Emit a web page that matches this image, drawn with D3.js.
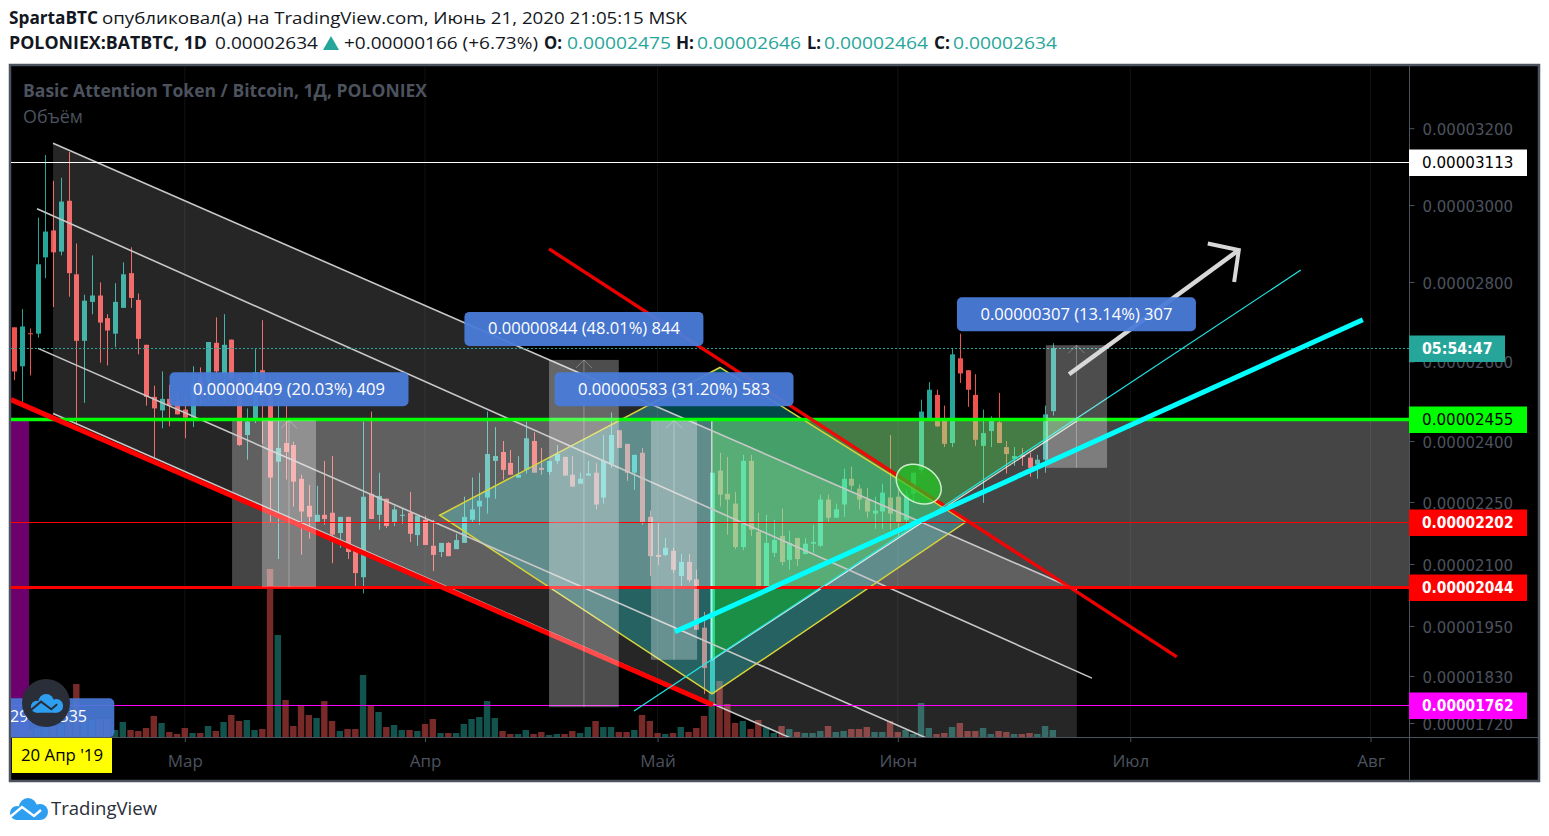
<!DOCTYPE html>
<html><head><meta charset="utf-8">
<style>html,body{margin:0;padding:0;background:#fff}svg{display:block}</style>
<script src="https://cdn.jsdelivr.net/npm/d3@7/dist/d3.min.js"></script></head><body>
<svg id="c" width="1549" height="836"></svg>
<script>
// values in units of 1e-8 BTC, one per daily bar
const opens=[2686,2588,2671,2670,2864,2934,2879,3011,2820,2652,2750,2766,2709,2670,2735,2823,2755,2642,2511,2477,2506,2501,2479,2459,2560,2551,2647,2568,2655,2558,2415,2457,2578,2519,2349,2395,2390,2307,2241,2202,2219,2224,2175,2214,2132,2068,2270,2219,2258,2202,2217,2224,2170,2207,2144,2129,2151,2136,2151,2207,2239,2261,2351,2373,2346,2310,2329,2400,2334,2324,2351,2361,2317,2295,2315,2322,2261,2344,2427,2393,2322,2371,2214,2122,2122,2132,2071,2105,2063,1946,1788,2327,2270,2246,2141,2351,2178,2044,2127,2168,2110,2163,2124,2149,2144,2256,2212,2244,2307,2283,2256,2222,2227,2261,2263,2207,2270,2329,2455,2516,2452,2395,2608,2578,2516,2388,2425,2447,2385,2356,2366,2359,2342,2354,2475];
const highs=[2686,2732,2683,2967,3130,3063,3071,3138,2900,2768,2869,2799,2719,2797,2851,2890,2771,2642,2539,2575,2541,2526,2514,2588,2585,2649,2711,2719,2655,2563,2482,2631,2704,2563,2560,2489,2398,2317,2292,2290,2351,2363,2214,2214,2132,2449,2474,2322,2258,2241,2234,2275,2217,2217,2207,2151,2153,2173,2263,2310,2322,2474,2435,2400,2378,2363,2449,2422,2383,2351,2390,2361,2363,2322,2351,2346,2415,2472,2427,2393,2366,2383,2229,2200,2163,2139,2124,2124,2086,1984,2322,2371,2361,2275,2366,2366,2224,2219,2207,2234,2180,2163,2163,2195,2268,2268,2246,2332,2337,2293,2285,2263,2295,2415,2280,2280,2322,2504,2548,2529,2489,2634,2670,2578,2568,2479,2462,2521,2400,2385,2383,2371,2366,2489,2646];
const lows=[2553,2499,2565,2660,2810,2737,2869,2763,2440,2496,2719,2597,2590,2636,2735,2735,2618,2489,2359,2432,2437,2467,2407,2435,2489,2501,2563,2496,2501,2388,2354,2445,2393,2202,2112,2305,2239,2122,2161,2202,2195,2102,2139,2112,2046,2029,2209,2183,2187,2192,2197,2153,2144,2146,2083,2117,2119,2136,2151,2202,2195,2222,2258,2305,2317,2310,2320,2322,2317,2317,2344,2315,2288,2295,2315,2232,2246,2334,2383,2302,2280,2195,2071,2097,2119,2078,2046,2056,1941,1788,1788,2239,2171,2136,2134,2168,2039,2044,2117,2097,2086,2095,2124,2127,2141,2202,2212,2214,2280,2232,2212,2185,2185,2183,2168,2183,2248,2322,2455,2435,2385,2385,2546,2486,2388,2248,2385,2395,2320,2339,2339,2312,2307,2322,2464];
const closes=[2575,2688,2669,2846,2931,2877,3009,2823,2652,2753,2766,2698,2678,2750,2820,2760,2657,2511,2482,2506,2489,2467,2459,2541,2514,2649,2575,2642,2558,2390,2449,2573,2514,2310,2383,2373,2300,2227,2214,2219,2209,2171,2214,2129,2078,2263,2209,2265,2192,2232,2219,2173,2217,2146,2122,2151,2119,2158,2214,2232,2253,2368,2363,2329,2317,2317,2407,2322,2329,2351,2368,2315,2288,2307,2320,2244,2351,2415,2383,2322,2366,2202,2119,2117,2139,2086,2105,2061,1941,1849,2322,2268,2256,2141,2351,2183,2039,2151,2158,2105,2151,2112,2149,2153,2256,2212,2232,2307,2290,2256,2227,2229,2273,2222,2200,2268,2322,2474,2529,2437,2393,2618,2570,2529,2403,2420,2452,2395,2368,2363,2361,2334,2354,2467,2634];
// volume, arbitrary units
const volumes=[8,8,7,9,10,14,12,15,53,18,17,18,18,7,15,7,6,9,21,14,5,3,9,4,4,11,6,15,22,16,17,7,8,168,102,37,11,31,22,19,36,16,6,8,8,62,31,25,10,12,7,7,6,13,18,4,4,4,13,18,20,36,19,6,3,3,7,3,5,2,3,3,6,4,10,16,10,10,5,5,7,22,16,4,3,4,10,5,9,21,45,56,33,14,16,8,17,10,4,11,8,5,4,4,6,11,5,6,8,8,10,5,5,16,5,7,3,34,9,3,4,10,14,6,6,9,3,6,5,3,3,4,3,11,7];

const priceTicks=[1720,1830,1950,2100,2250,2400,2600,2800,3000,3200];
const priceTickPixels=[723,676,626,564,502,441,361.5,282,205,128.2];
const monthBars=[22,53,83,114,144,175];
const monthNames=["Мар","Апр","Май","Июн","Июл","Авг"];

// chart drawings: [bar index, price]
const channelFill=[[5,3161],[137.1,2037],[137.1,1390],[5,2469]];
const channelLines=[[[5,3161],[137.1,2037]],[[2.93,2990],[139.05,1825]],[[3.06,2633],[120.7,1661]],[[5,2469],[101.4,1675]]];
const supportRed=[[-0.43,2504],[90.16,1762]];
const resistRed=[[69,2886],[150,1876]];
const cyanThick=[[85.25,1936],[174,2705]];
const cyanThin=[[79.96,1748],[166,2831]];
const diamond=[[54.9,2218],[91.05,2585],[122.8,2202],[90.02,1788]];
const greenTriangle=[[90,2452],[137.25,2452],[90,1868]];
const arrowShaft=[[136.1,2568],[158,2883]];
const arrowHead=[[154,2900],[158,2883],[157.4,2800]];
const ellipseAt=[116.7,2294];
const band={i0:28.1,i1:182,lo:2044,hi:2455};
const purpleRange={i0:-0.43,i1:1.9,lo:1687,hi:2455};
const hiddenLabel={i0:-1,i1:12.9,lo:1687,hi:1778};
const ranges=[
 {i0:31.96,i1:38.93,lo:2044,hi:2452,text:"0.00000409 (20.03%) 409"},
 {i0:69,i1:78,lo:1757,hi:2604,text:"0.00000844 (48.01%) 844"},
 {i0:82.15,i1:88.1,lo:1869,hi:2452,text:"0.00000583 (31.20%) 583"},
 {i0:133.1,i1:141,lo:2334,hi:2641,text:"0.00000307 (13.14%) 307"}];
const levels=[3113,2455,2202,2044,1762];
const levelColors=["#ffffff","#00ff00","#ff0000","#ff0000","#ff00ff"];
const levelWidths=[1,3.5,1,3,1];
const levelText=["#000","#000","#fff","#fff","#fff"];
const lastPrice=2634;

const TEAL="#26a69a",RED="#ef5350",AX="#4c525e";
const svg=d3.select("#c");
const x=d3.scaleLinear().domain([0,134]).range([14.3,1052.8]);
const y=d3.scaleLinear().domain(priceTicks).range(priceTickPixels);
const yV=d3.scaleLinear().domain([0,168]).range([737,569]);
const line=d3.line(d=>x(d[0]),d=>y(d[1]));
const poly=p=>line(p)+"Z";
const F1="'Open Sans',sans-serif",FD="'DejaVu Sans',sans-serif";
function txt(par,xp,yp,s,o={}){
  const t=par.append("text").attr("x",xp).attr("y",yp).text(s)
   .attr("font-family",o.font||F1).attr("font-size",o.size||16).attr("fill",o.fill||"#131722")
   .attr("font-weight",o.weight||400).attr("text-anchor",o.anchor||"start");
  if(o.w)t.attr("textLength",o.w).attr("lengthAdjust","spacingAndGlyphs");
  return t;
}
// header
txt(svg,9,24,"SpartaBTC",{weight:700,size:17,w:89});
txt(svg,102,24,"опубликовал(а) на TradingView.com, Июнь 21, 2020 21:05:15 MSK",{size:17,w:585});
txt(svg,9,49,"POLONIEX:BATBTC, 1D",{weight:700,size:17,w:198});
txt(svg,215,49,"0.00002634",{size:17,w:103});
svg.append("path").attr("d","M323,50L331,36L339,50Z").attr("fill",TEAL);
txt(svg,344,49,"+0.00000166 (+6.73%)",{size:17,w:194});
[["O:",544,18,"0.00002475",567],["H:",676,18,"0.00002646",697],["L:",807,14,"0.00002464",824],["C:",934,16,"0.00002634",953]].forEach(d=>{
  txt(svg,d[1],49,d[0],{weight:700,size:17,w:d[2]});
  txt(svg,d[4],49,d[3],{size:17,w:104,fill:TEAL});
});
// frame
svg.append("rect").attr("x",10).attr("y",65).attr("width",1529).attr("height",716).attr("fill","#000").attr("stroke",AX).attr("stroke-width",2.5);
svg.append("defs").append("clipPath").attr("id","pl").append("rect").attr("x",11).attr("y",67).attr("width",1398).attr("height",670);
const g=svg.append("g").attr("clip-path","url(#pl)");
// faint month grid
g.selectAll(".gr").data(monthBars).join("line").attr("x1",d=>x(d)).attr("x2",d=>x(d)).attr("y1",67).attr("y2",737).attr("stroke","#121212");
// volume
g.selectAll(".v").data(volumes).join("rect").attr("x",(d,i)=>x(i)-3.2).attr("width",6.4).attr("y",d=>yV(d)).attr("height",d=>737-yV(d))
 .attr("fill",(d,i)=>closes[i]>=opens[i]?TEAL:RED).attr("fill-opacity",.5);
// candles
const idx=d3.range(opens.length);
const col=i=>closes[i]>=opens[i]?TEAL:RED;
g.selectAll(".w").data(idx).join("line").attr("x1",i=>Math.round(x(i))+.5).attr("x2",i=>Math.round(x(i))+.5).attr("y1",i=>y(highs[i])).attr("y2",i=>y(lows[i])).attr("stroke",col);
g.selectAll(".b").data(idx).join("rect").attr("x",i=>Math.round(x(i))-2).attr("width",5)
 .attr("y",i=>y(Math.max(opens[i],closes[i]))).attr("height",i=>Math.max(1,Math.abs(y(opens[i])-y(closes[i])))).attr("fill",col);
// overlays, in the stacking order of the original
const box=(par,b,fill,op)=>par.append("rect").attr("x",x(b.i0)).attr("width",x(b.i1)-x(b.i0)).attr("y",y(b.hi)).attr("height",y(b.lo)-y(b.hi)).attr("fill",fill).attr("fill-opacity",op);
g.append("path").attr("d",poly(diamond)).attr("fill","#00ffff").attr("fill-opacity",.28);
g.append("path").attr("d",poly(channelFill)).attr("fill","#fff").attr("fill-opacity",.15);
g.append("path").attr("d",poly(greenTriangle)).attr("fill","#00ff00").attr("fill-opacity",.29);
box(g,band,"#fff",.27);
g.append("path").attr("d",poly(greenTriangle)).attr("fill","none").attr("stroke","#fff").attr("stroke-opacity",.8).attr("stroke-width",1.2);
box(g,purpleRange,"#8b008b",.78);
g.append("path").attr("d",poly(diamond)).attr("fill","none").attr("stroke","#d8d43a").attr("stroke-width",1.5);
// channel lines
channelLines.forEach(l=>g.append("path").attr("d",line(l)).attr("fill","none").attr("stroke","#c8c8c8").attr("stroke-width",1.6));
// level lines
levels.forEach((v,i)=>{const yy=levelWidths[i]===1?Math.round(y(v))+.5:y(v)+.3;
  g.append("line").attr("x1",11).attr("x2",1409).attr("y1",yy).attr("y2",yy).attr("stroke",levelColors[i]).attr("stroke-width",levelWidths[i]);});
const yLast=Math.round(y(lastPrice))+.5;
g.append("line").attr("x1",11).attr("x2",1409).attr("y1",yLast).attr("y2",yLast).attr("stroke",TEAL).attr("stroke-dasharray","2 2");
// trend lines
const stroke=(p,c,w,op)=>g.append("path").attr("d",line(p)).attr("fill","none").attr("stroke",c).attr("stroke-width",w).attr("stroke-opacity",op||1).attr("stroke-linecap","butt");
stroke(supportRed,"#ff0000",5,1);
stroke(resistRed,"#ff0000",3.4,.92);
stroke(cyanThin,"#22e6e6",1.2);
// ranges
ranges.forEach(r=>{
  box(g,r,"#fff",.3);
  const cx=(x(r.i0)+x(r.i1))/2,tp=y(r.hi);
  g.append("line").attr("x1",cx).attr("x2",cx).attr("y1",tp).attr("y2",y(r.lo)).attr("stroke","#fff").attr("stroke-opacity",.3);
  g.append("path").attr("d",`M${cx-8},${tp+8}L${cx},${tp}L${cx+8},${tp+8}`).attr("fill","none").attr("stroke","#fff").attr("stroke-opacity",.3);
});
g.append("ellipse").attr("cx",x(ellipseAt[0])).attr("cy",y(ellipseAt[1])).attr("rx",24).attr("ry",18).attr("transform",`rotate(32 ${x(ellipseAt[0])} ${y(ellipseAt[1])})`)
 .attr("fill","#22c522").attr("fill-opacity",.7).attr("stroke","#cfeccf").attr("stroke-width",1.5);
stroke(cyanThick,"#00ffff",5);
stroke(arrowShaft,"#d8d8d8",4.5);
stroke(arrowHead,"#d8d8d8",4);
// range labels
ranges.forEach(r=>{
  const cx=(x(r.i0)+x(r.i1))/2,bot=y(r.hi)-14;
  g.append("rect").attr("x",cx-119.5).attr("y",bot-34).attr("width",239).attr("height",34).attr("rx",5).attr("fill","#4a7bd9").attr("fill-opacity",.95);
  txt(g,cx,bot-11.5,r.text,{size:16.5,fill:"#fff",anchor:"middle",w:192});
});
g.append("rect").attr("x",x(hiddenLabel.i0)).attr("y",y(hiddenLabel.hi)).attr("width",x(hiddenLabel.i1)-x(hiddenLabel.i0)).attr("height",y(hiddenLabel.lo)-y(hiddenLabel.hi)).attr("rx",5).attr("fill","#4a7bd9").attr("fill-opacity",.92);
txt(g,10,722,"29%) 1335",{size:16.5,fill:"#fff",w:77});
// titles
txt(svg,23,97,"Basic Attention Token / Bitcoin, 1Д, POLONIEX",{weight:700,size:18,fill:AX,w:404});
txt(svg,23,123,"Объём",{size:18,fill:AX,w:60});
// axes
svg.append("line").attr("x1",11).attr("x2",1538).attr("y1",737.5).attr("y2",737.5).attr("stroke",AX);
svg.append("line").attr("x1",1409.5).attr("x2",1409.5).attr("y1",66).attr("y2",780).attr("stroke",AX);
const yAx=svg.append("g").attr("transform","translate(1409.5,0)").call(d3.axisRight(y).tickValues(priceTicks).tickSize(5).tickPadding(8).tickFormat(d=>(d*1e-8).toFixed(8)));
yAx.select(".domain").remove();
yAx.selectAll("line").attr("stroke",AX);
yAx.selectAll("text").attr("font-family",FD).attr("font-size",15).attr("fill",AX).attr("dy","0.42em");
const xAx=svg.append("g").attr("transform","translate(0,737)").call(d3.axisBottom(x).tickValues(monthBars).tickSize(5).tickPadding(13).tickFormat((d,i)=>monthNames[i]));
xAx.select(".domain").remove();
xAx.selectAll("line").attr("stroke",AX);
xAx.selectAll("text").attr("font-family",F1).attr("font-size",17).attr("fill",AX);
// price tags
const tags=levels.map((v,i)=>({v,bg:levelColors[i],fg:levelText[i],s:(v*1e-8).toFixed(8),w:118}));
tags.push({v:lastPrice,bg:TEAL,fg:"#fff",s:"05:54:47",w:96,bold:1});
tags.forEach(t=>{
  const cy=Math.round(y(t.v))+.5;
  svg.append("rect").attr("x",1409).attr("y",cy-13).attr("width",t.w).attr("height",26.5).attr("fill",t.bg);
  txt(svg,1422,cy+5.5,t.s,{font:FD,size:15,fill:t.fg,weight:t.fg==="#fff"?700:400,w:91.5-(t.s.length<10?21:0)});
});
// date tag
svg.append("rect").attr("x",12).attr("y",738).attr("width",100).attr("height",35).attr("fill","#ffff00");
txt(svg,62,761,"20 Апр '19",{size:16,fill:"#000",anchor:"middle",w:82});
// logos
function cloud(par,tx,ty,s,col,zig){
  const l=par.append("g").attr("transform",`translate(${tx},${ty}) scale(${s})`);
  [[19,9,9],[31,14,8],[8,15,7]].forEach(c=>l.append("circle").attr("cx",c[0]).attr("cy",c[1]).attr("r",c[2]).attr("fill",col));
  l.append("rect").attr("x",8).attr("y",12).attr("width",23).attr("height",10).attr("fill",col);
  l.append("polyline").attr("points","1,19 13,9 25,18 32,12").attr("fill","none").attr("stroke",zig).attr("stroke-width",2.4);
}
svg.append("circle").attr("cx",46).attr("cy",703).attr("r",24).attr("fill","#2a2e39");
cloud(svg,30,694,.85,"#2e9ef0","#2a2e39");
cloud(svg,9,798,1,"#2e9ef0","#fff");
txt(svg,51,815,"TradingView",{size:18,fill:"#2a2e39",w:106});
</script></body></html>
